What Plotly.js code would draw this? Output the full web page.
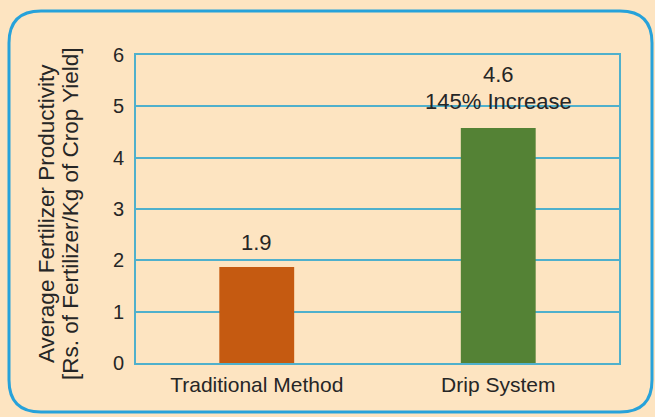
<!DOCTYPE html>
<html>
<head>
<meta charset="utf-8">
<script src="https://cdn.plot.ly/plotly-3.0.1.min.js"></script>
<style>
  html, body { margin: 0; padding: 0; background: #fde4c1; }
  #chart { width: 655px; height: 417px; }
</style>
</head>
<body>
<div id="chart"></div>
<script>
// Data
const categories = ["Traditional Method", "Drip System"];
const values = [1.87, 4.58];
const valueLabels = ["1.9", "4.6"];
const notes = ["", "145% Increase"];
const barColors = ["#c55a11", "#548235"];
const yTicks = [0, 1, 2, 3, 4, 5, 6];
const yTitleLines = ["Average Fertilizer Productivity", "[Rs. of Fertilizer/Kg of Crop Yield]"];

const W = 655, H = 417;
const M = { l: 136, r: 36, t: 55, b: 54 };
const pw = W - M.l - M.r, ph = H - M.t - M.b;
const px = x => (x - M.l) / pw;
const py = y => (H - M.b - y) / ph;

function roundedRect(x0, y0, x1, y1, r) {
  const P = (x, y) => px(x).toFixed(5) + "," + py(y).toFixed(5);
  return "M" + P(x0 + r, y0) + " L" + P(x1 - r, y0) + " Q" + P(x1, y0) + " " + P(x1, y0 + r) +
    " L" + P(x1, y1 - r) + " Q" + P(x1, y1) + " " + P(x1 - r, y1) +
    " L" + P(x0 + r, y1) + " Q" + P(x0, y1) + " " + P(x0, y1 - r) +
    " L" + P(x0, y0 + r) + " Q" + P(x0, y0) + " " + P(x0 + r, y0) + " Z";
}

const textColor = "#262626";
const gridColor = "#4fb0cc";
const fam = "Liberation Sans, Arial, sans-serif";
const font = { family: fam, size: 20, color: textColor };
const labelFont = { family: fam, size: 22, color: textColor };
const titleFont = { family: fam, size: 22.5, color: textColor };

const annotations = [];
categories.forEach((c, i) => {
  if (notes[i]) {
    annotations.push({ x: c, y: values[i], xref: "x", yref: "y", text: valueLabels[i],
      showarrow: false, yanchor: "middle", yshift: 53, font: labelFont });
    annotations.push({ x: c, y: values[i], xref: "x", yref: "y", text: notes[i],
      showarrow: false, yanchor: "middle", yshift: 26, font: labelFont });
  } else {
    annotations.push({ x: c, y: values[i], xref: "x", yref: "y", text: valueLabels[i],
      showarrow: false, yanchor: "middle", yshift: 25, font: labelFont });
  }
});
// y-axis title (two lines, rotated)
const titleX = [47, 71];
yTitleLines.forEach((t, i) => {
  annotations.push({ x: px(titleX[i]), y: py(214), xref: "paper", yref: "paper", text: t,
    textangle: -90, showarrow: false, xanchor: "center", yanchor: "middle", font: titleFont });
});

const trace = {
  type: "bar",
  x: categories,
  y: values,
  marker: { color: barColors, line: { width: 0 } },
  width: 0.31,
  hoverinfo: "skip"
};

const layout = {
  width: W, height: H,
  margin: M,
  paper_bgcolor: "#fde4c1",
  plot_bgcolor: "#fde4c1",
  font: font,
  showlegend: false,
  xaxis: {
    type: "category",
    showgrid: false,
    showline: true, linecolor: gridColor, linewidth: 2, mirror: true,
    ticks: "", tickfont: { family: fam, size: 21, color: textColor },
    ticklabelstandoff: 2,
    automargin: false
  },
  yaxis: {
    range: [0, 6],
    tickvals: yTicks,
    showgrid: true, gridcolor: gridColor, gridwidth: 2,
    zeroline: false,
    showline: true, linecolor: gridColor, linewidth: 2, mirror: true,
    ticks: "", tickfont: font, ticklabelstandoff: 6,
    automargin: false
  },
  shapes: [{
    type: "path", xref: "paper", yref: "paper", layer: "below",
    path: roundedRect(9, 11, 652, 412, 32),
    line: { color: "#27a2da", width: 3 }
  }],
  annotations: annotations
};

Plotly.newPlot("chart", [trace], layout, { displayModeBar: false, staticPlot: true });
</script>
</body>
</html>
